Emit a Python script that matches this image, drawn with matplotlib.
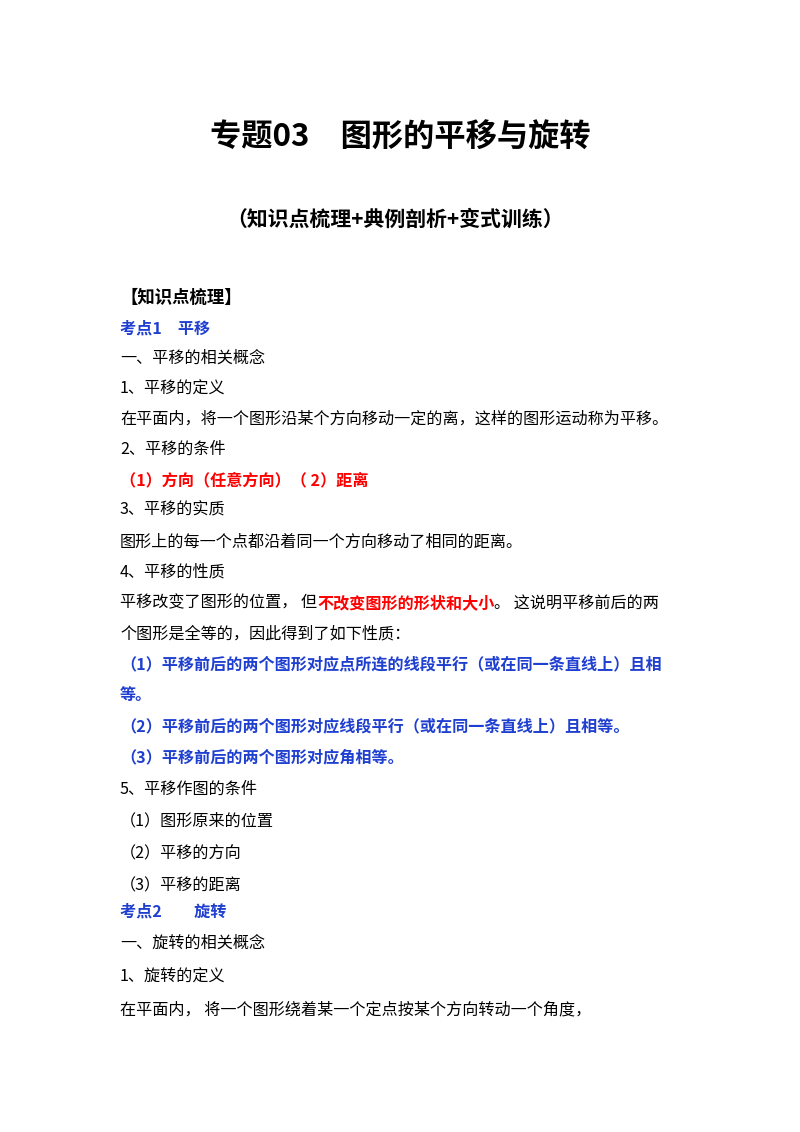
import matplotlib
matplotlib.use('Agg')
import matplotlib.pyplot as plt

plt.rcParams['font.family'] = ['Noto Sans CJK SC', 'DejaVu Sans']

W, H = 800, 1132
BLACK = '#000000'
BLUE = '#1f3fd0'
RED = '#ff0000'

title = '专题03　图形的平移与旋转'
subtitle = '（知识点梳理+典例剖析+变式训练）'

# each line: (y pixel from top, list of (text, colour, bold))
lines = [
    (298, [('【知识点梳理】', BLACK, True)]),
    (328, [('考点1　平移', BLUE, True)]),
    (358, [('一、平移的相关概念', BLACK, False)]),
    (389, [('1、平移的定义', BLACK, False)]),
    (419, [('在平面内，将一个图形沿某个方向移动一定的离，这样的图形运动称为平移。', BLACK, False)]),
    (449, [('2、平移的条件', BLACK, False)]),
    (480, [('（1）方向（任意方向）（ 2）距离', RED, True)]),
    (510, [('3、平移的实质', BLACK, False)]),
    (542, [('图形上的每一个点都沿着同一个方向移动了相同的距离。', BLACK, False)]),
    (572, [('4、平移的性质', BLACK, False)]),
    (603, [('平移改变了图形的位置， 但', BLACK, False),
           ('不改变图形的形状和大小', RED, True),
           ('。 这说明平移前后的两', BLACK, False)]),
    (634, [('个图形是全等的，因此得到了如下性质：', BLACK, False)]),
    (664, [('（1）平移前后的两个图形对应点所连的线段平行（或在同一条直线上）且相', BLUE, True)]),
    (695, [('等。', BLUE, True)]),
    (726, [('（2）平移前后的两个图形对应线段平行（或在同一条直线上）且相等。', BLUE, True)]),
    (757, [('（3）平移前后的两个图形对应角相等。', BLUE, True)]),
    (789, [('5、平移作图的条件', BLACK, False)]),
    (821, [('（1）图形原来的位置', BLACK, False)]),
    (854, [('（2）平移的方向', BLACK, False)]),
    (886, [('（3）平移的距离', BLACK, False)]),
    (911, [('考点2　　旋转', BLUE, True)]),
    (943, [('一、旋转的相关概念', BLACK, False)]),
    (977, [('1、旋转的定义', BLACK, False)]),
    (1010, [('在平面内， 将一个图形绕着某一个定点按某个方向转动一个角度，', BLACK, False)]),
]

dpi = 100
fig = plt.figure(figsize=(W / dpi, H / dpi), dpi=dpi)
fig.patch.set_facecolor('white')

fig.text(400 / W, 1 - 138 / H, title, ha='center', va='center',
         fontsize=22.5, fontweight='bold')
fig.text(395 / W, 1 - 219 / H, subtitle, ha='center', va='center',
         fontsize=15, fontweight='bold')

fig.canvas.draw()
renderer = fig.canvas.get_renderer()
for y, parts in lines:
    x = 120
    for txt, col, bold in parts:
        size = 12.5 if txt.startswith('【') else 11.6
        t = fig.text(x / W, 1 - y / H, txt, ha='left', va='center',
                     fontsize=size, color=col,
                     fontweight='bold' if bold else 'normal')
        x += t.get_window_extent(renderer).width

fig.savefig('out.png', dpi=dpi)
